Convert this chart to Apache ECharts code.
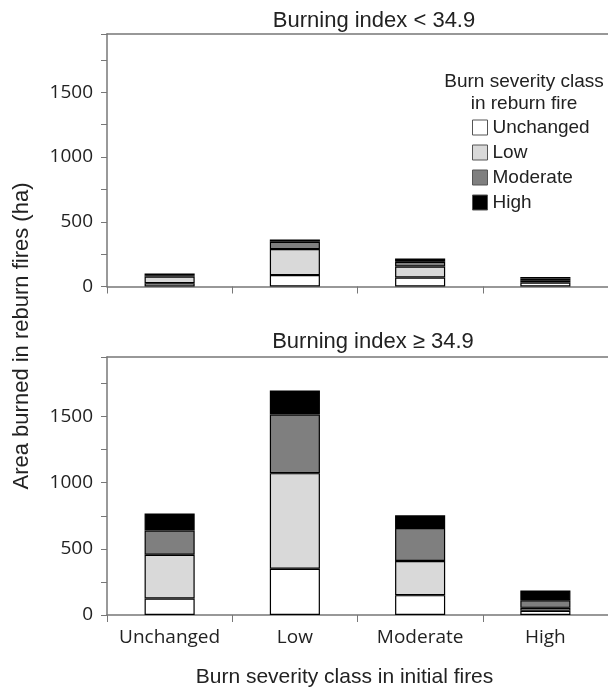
<!DOCTYPE html>
<html><head><meta charset="utf-8">
<script src="https://cdn.jsdelivr.net/npm/echarts@6/dist/echarts.min.js"></script>
<style>html,body{margin:0;padding:0;background:#fff}#c{width:608px;height:689px}</style>
</head><body><div id="c"></div>
<script>
const categories = ['Unchanged', 'Low', 'Moderate', 'High'];
const seriesNames = ['Unchanged', 'Low', 'Moderate', 'High'];
const yTicks = [0, 500, 1000, 1500];
// Panel 1: Burning index < 34.9 (rows: reburn severity; columns: initial severity)
const lowBI_unchanged = [25, 88, 70, 30];
const lowBI_low       = [52, 201, 85, 18];
const lowBI_moderate  = [10, 57, 36, 13];
const lowBI_high      = [13, 17, 26, 12];
// Panel 2: Burning index >= 34.9
const highBI_unchanged = [125, 350, 150, 32];
const highBI_low       = [330, 722, 258, 22];
const highBI_moderate  = [183, 443, 250, 58];
const highBI_high      = [130, 182, 95, 73];

const colors = ['#ffffff', '#d9d9d9', '#7f7f7f', '#000000'];
const axisGray = '#777777';
const tickFont = 'Open Sans';
const textFont = 'Liberation Sans';

const chart = echarts.init(document.getElementById('c'), null, {renderer: 'canvas'});

function yAxisCfg(gi) {
  return {
    type: 'value', gridIndex: gi, min: 0, max: 1950, interval: 250,
    axisLine: {show: true, lineStyle: {color: axisGray, width: 1.5}},
    axisTick: {show: true, inside: false, length: 6, lineStyle: {color: axisGray}},
    splitLine: {show: false},
    axisLabel: {
      margin: 14, fontFamily: tickFont, fontSize: 19, color: '#222',
      formatter: v => (yTicks.indexOf(v) >= 0 ? String(v) : '')
    }
  };
}
function xAxisCfg(gi, showLabels) {
  const ax = {
    type: 'category', gridIndex: gi, data: categories, position: 'bottom',
    axisLine: {show: true, lineStyle: {color: axisGray, width: 1.5}},
    axisTick: {show: true, length: 7, alignWithLabel: false, interval: 0, lineStyle: {color: axisGray}},
    axisLabel: {show: showLabels, interval: 0, margin: 13, fontFamily: tickFont, fontSize: 19, color: '#222'}
  };
  if (showLabels) {
    ax.name = 'Burn severity class in initial fires';
    ax.nameLocation = 'middle';
    ax.nameGap = 52;
    ax.nameTextStyle = {fontFamily: textFont, fontSize: 21, color: '#222', padding: [0, 26, 0, 0]};
  }
  return ax;
}
function topAxisCfg(gi) {
  return {
    type: 'category', gridIndex: gi, data: categories, position: 'top',
    axisLine: {show: true, lineStyle: {color: axisGray, width: 1.5}},
    axisTick: {show: false}, axisLabel: {show: false}
  };
}

const panelData = [
  [lowBI_unchanged, lowBI_low, lowBI_moderate, lowBI_high],
  [highBI_unchanged, highBI_low, highBI_moderate, highBI_high]
];
const series = [];
panelData.forEach((arrs, p) => {
  arrs.forEach((arr, i) => {
    series.push({
      name: seriesNames[i], type: 'bar', stack: 'p' + p,
      xAxisIndex: p, yAxisIndex: p, data: arr, barWidth: '40%',
      itemStyle: {color: colors[i], borderColor: '#000', borderWidth: 1.2},
      emphasis: {disabled: true}
    });
  });
});

chart.setOption({
  animation: false,
  backgroundColor: '#fff',
  title: [
    {text: 'Burning index < 34.9', left: 369, top: 5, textAlign: 'center',
     textStyle: {fontFamily: textFont, fontSize: 22, fontWeight: 'normal', color: '#222'}},
    {text: 'Burning index \u2265 34.9', left: 368, top: 326, textAlign: 'center',
     textStyle: {fontFamily: textFont, fontSize: 22, fontWeight: 'normal', color: '#222'}},
    {text: 'Burn severity class\nin reburn fire', left: 519, top: 66, textAlign: 'center',
     textStyle: {fontFamily: textFont, fontSize: 19, fontWeight: 'normal', color: '#222', lineHeight: 22}}
  ],
  legend: {
    orient: 'vertical', left: 467, top: 113, itemWidth: 15, itemHeight: 15, itemGap: 6,
    icon: 'rect', data: seriesNames, selectedMode: false,
    textStyle: {fontFamily: textFont, fontSize: 19, color: '#222'},
    itemStyle: {borderColor: '#555', borderWidth: 1}
  },
  grid: [
    {left: 107, top: 34, right: 0, height: 252.5},
    {left: 107, top: 357, right: 0, height: 259.5}
  ],
  xAxis: [xAxisCfg(0, false), xAxisCfg(1, true), topAxisCfg(0), topAxisCfg(1)],
  yAxis: [yAxisCfg(0), yAxisCfg(1)],
  graphic: [{
    type: 'text', x: 22, y: 336, rotation: Math.PI / 2,
    style: {text: 'Area burned in reburn fires (ha)', fontFamily: textFont, fontSize: 22,
            fill: '#222', align: 'center', verticalAlign: 'middle'}
  }],
  series: series
});
</script></body></html>
